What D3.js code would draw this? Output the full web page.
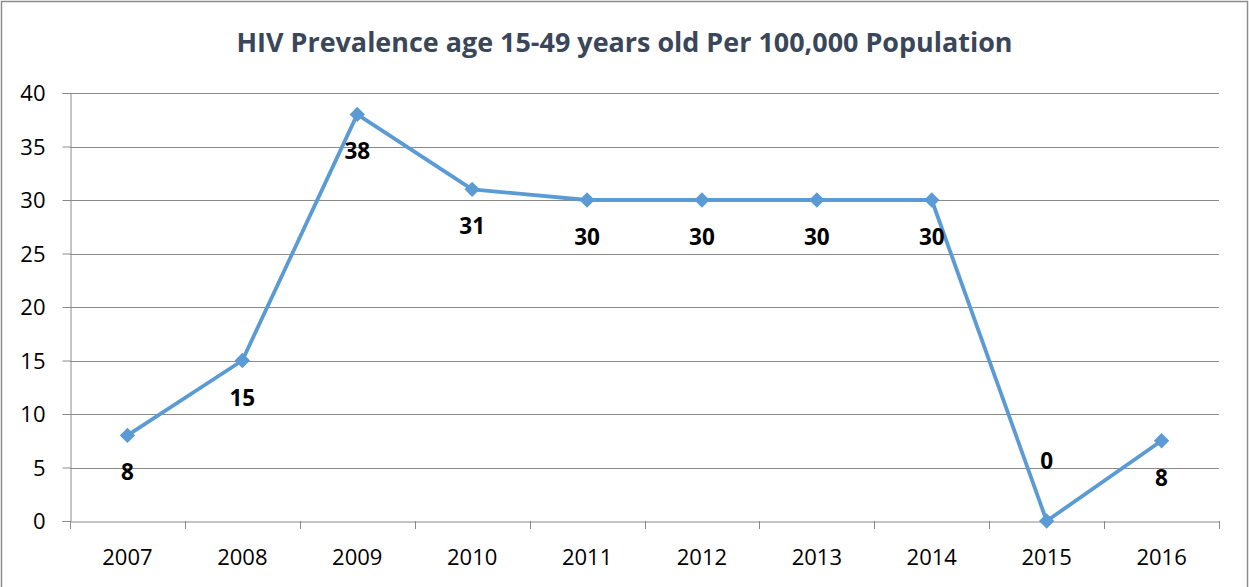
<!DOCTYPE html>
<html><head><meta charset="utf-8">
<script src="https://cdn.jsdelivr.net/npm/d3@7"></script>
<style>html,body{margin:0;padding:0;background:#fff;overflow:hidden}</style>
</head><body>
<svg id="chart" width="1249" height="587"></svg>
<script>
const years = ["2007","2008","2009","2010","2011","2012","2013","2014","2015","2016"];
const values = [8, 15, 38, 31, 30, 30, 30, 30, 0, 7.5];
const yTicks = [0, 5, 10, 15, 20, 25, 30, 35, 40];
const titleText = "HIV Prevalence age 15-49 years old Per 100,000 Population";

const svg = d3.select("#chart");
const W = 1249, H = 587;
const m = {left: 70, right: 1219, top: 93, bottom: 521};

svg.append("rect").attr("x", 1.5).attr("y", 1.5).attr("width", W - 3).attr("height", H + 10)
  .attr("fill", "#fff").attr("stroke", "#8c8c8c").attr("stroke-width", 1.5);

const x = d3.scaleBand().domain(years).range([m.left, m.right]);
const y = d3.scaleLinear().domain([0, 40]).range([m.bottom, m.top]);

// title
svg.append("text").attr("x", W / 2).attr("y", 52).attr("text-anchor", "middle")
  .attr("font-family", "'Open Sans', sans-serif").attr("font-weight", "bold")
  .attr("font-size", 26.5).attr("fill", "#3a4659")
  .attr("textLength", 776).attr("lengthAdjust", "spacingAndGlyphs")
  .text(titleText);

// gridlines
svg.append("g").selectAll("line").data(yTicks.filter(d => d > 0)).join("line")
  .attr("x1", m.left).attr("x2", m.right)
  .attr("y1", d => Math.round(y(d)) + 0.5).attr("y2", d => Math.round(y(d)) + 0.5)
  .attr("stroke", "#8a8a8a").attr("stroke-width", 1);

// y axis
const yAxis = d3.axisLeft(y).tickValues(yTicks).tickSize(8).tickPadding(17);
const gy = svg.append("g").attr("transform", `translate(${m.left + 0.5},0)`).call(yAxis);
gy.select(".domain").attr("stroke", "#8a8a8a");
gy.selectAll(".tick line").attr("stroke", "#8a8a8a");
gy.selectAll(".tick text").attr("font-family", "'Open Sans', sans-serif").attr("font-size", 22)
  .attr("fill", "#000").attr("dy", "0.36em");

// x axis
const xAxis = d3.axisBottom(x).tickSize(0).tickPadding(0).tickSizeOuter(0);
const gx = svg.append("g").attr("transform", `translate(0,${Math.round(m.bottom) + 0.5})`).call(xAxis);
gx.select(".domain").attr("stroke", "#8a8a8a");
gx.selectAll(".tick text").attr("font-family", "'Open Sans', sans-serif").attr("font-size", 22)
  .attr("fill", "#000").attr("dy", 0).attr("y", 43);
// category boundary ticks
const bounds = years.map(d => x(d)).concat([m.right]);
svg.append("g").selectAll("line").data(bounds).join("line")
  .attr("x1", d => Math.round(d) + 0.5).attr("x2", d => Math.round(d) + 0.5)
  .attr("y1", m.bottom).attr("y2", m.bottom + 8)
  .attr("stroke", "#8a8a8a");

// line
const cx = d => x(d) + x.bandwidth() / 2;
const pts = years.map((d, i) => [cx(d), y(values[i])]);
svg.append("path").datum(pts).attr("d", d3.line())
  .attr("fill", "none").attr("stroke", "#5b9bd5").attr("stroke-width", 3.8)
  .attr("stroke-linejoin", "round");

// markers
svg.append("g").selectAll("path").data(pts).join("path")
  .attr("d", d3.symbol(d3.symbolDiamond2, 150))
  .attr("transform", d => `translate(${d[0]},${d[1]})`)
  .attr("fill", "#5b9bd5");

// labels
const fmt = d3.format(".0f");
svg.append("g").selectAll("text").data(values).join("text")
  .attr("x", (d, i) => cx(years[i]))
  .attr("y", d => d === 0 ? y(d) - 52 : y(d) + 45)
  .attr("text-anchor", "middle")
  .attr("font-family", "'Open Sans', sans-serif").attr("font-weight", "bold")
  .attr("font-size", 22.5).attr("fill", "#000")
  .text(d => fmt(d));
</script>
</body></html>
